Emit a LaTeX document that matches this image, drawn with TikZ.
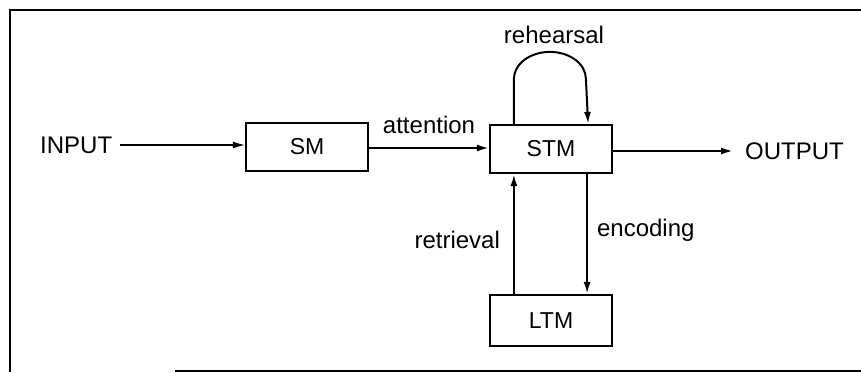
\documentclass[tikz,border=0pt]{standalone}
\usepackage{fontspec}
\setmainfont{Liberation Sans}
\usetikzlibrary{arrows.meta,calc}
\begin{document}
\begin{tikzpicture}[x=1pt,y=-1pt,
  memory/.style={draw,line width=2.2pt,minimum width=122pt,font=\fontsize{23}{26}\selectfont,inner sep=0pt},
  flow/.style={line width=2pt,-{Latex[length=12pt,width=7pt]}},
  lbl/.style={font=\fontsize{24}{27}\selectfont,inner sep=0pt}]
  \useasboundingbox (0,0) rectangle (861,372);
  % frame
  \draw[line width=2pt] (10,372) -- (10,10) -- (861,10);
  \draw[line width=2pt] (175,371) -- (861,371);

  % stores
  \node[memory,minimum height=48pt] (sm)  at (307,147) {SM};
  \node[memory,minimum height=48pt] (stm) at (551,149) {STM};
  \node[memory,minimum height=51pt] (ltm) at (551,320.5) {LTM};

  % input / output
  \node[lbl,anchor=west] (in)  at (40,145) {INPUT};
  \node[lbl,anchor=west] (out) at (745,151) {OUTPUT};

  \draw[line width=1.2pt,-{Latex[length=12pt,width=7pt]}] ([xshift=8pt]in.east) -- (sm.west |- in.east);
  \draw[flow] (sm.east |- 0,148) -- (stm.west |- 0,148)
    node[lbl,midway,above=13pt] (att) {attention};
  \draw[flow] (stm.east |- 0,151) -- ([xshift=-12pt]out.west);

  % rehearsal loop
  \draw[flow] ([xshift=25pt]stm.north west) -- ++(0,-45)
    arc[start angle=180,end angle=360,x radius=36,y radius=27]
    -- ([xshift=-25pt]stm.north east);
  \node[lbl] (reh) at (554,35) {rehearsal};

  % retrieval and encoding
  \draw[flow] ([xshift=25pt]ltm.north west) -- ([xshift=25pt]stm.south west)
    node[lbl,pos=0.45,left=13pt] (ret) {retrieval};
  \draw[flow] ([xshift=-26pt]stm.south east) -- ([xshift=-26pt]ltm.north east)
    node[lbl,pos=0.47,right=9pt] (enc) {encoding};
\end{tikzpicture}
\end{document}
